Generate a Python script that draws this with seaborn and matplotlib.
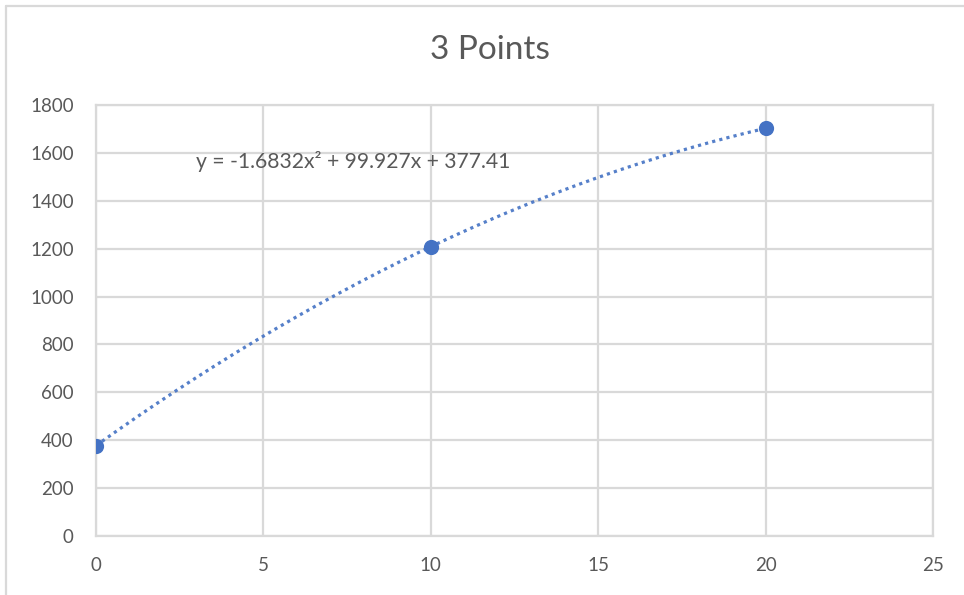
import numpy as np
import pandas as pd
import matplotlib
matplotlib.use("Agg")
import matplotlib.pyplot as plt
from matplotlib.lines import Line2D
import seaborn as sns

# Measured points
x_vals = [0, 10, 20]
y_vals = [377.41, 1208.36, 1702.67]

# Quadratic trendline coefficients (a*x^2 + b*x + c)
coef_a = -1.6832
coef_b = 99.927
coef_c = 377.41

x_ticks = [0, 5, 10, 15, 20, 25]
y_ticks = [0, 200, 400, 600, 800, 1000, 1200, 1400, 1600, 1800]

title_text = "3 Points"
equation_text = "y = -1.6832x\u00b2 + 99.927x + 377.41"

blue = "#4472C4"
grid_grey = "#D9D9D9"
text_grey = "#595959"

sns.set_theme(style="white")
plt.rcParams["font.family"] = ["Lato", "DejaVu Sans"]

fig = plt.figure(figsize=(9.64, 5.95), dpi=100)
ax = fig.add_axes([96 / 964, 1 - 536 / 595, (933 - 96) / 964, (536 - 105) / 595])

points = pd.DataFrame({"x": x_vals, "y": y_vals})
trend_x = np.linspace(min(x_vals), max(x_vals), 200)
trend = pd.DataFrame({"x": trend_x,
                      "y": coef_a * trend_x ** 2 + coef_b * trend_x + coef_c})

sns.lineplot(data=trend, x="x", y="y", ax=ax, color=blue, lw=2.3,
             linestyle=(0, (1, 1.3)), zorder=3, alpha=0.9)
ax.lines[-1].set_dash_capstyle("butt")
sns.scatterplot(data=points, x="x", y="y", ax=ax, color=blue, s=120,
                edgecolor=blue, linewidth=0, zorder=4)

ax.set_xlim(0, 25)
ax.set_ylim(0, 1800)
ax.set_xticks(x_ticks)
ax.set_yticks(y_ticks)
ax.set_xlabel("")
ax.set_ylabel("")
ax.grid(True, color=grid_grey, lw=1.6)
ax.set_axisbelow(True)
for sp in ax.spines.values():
    sp.set_color(grid_grey)
    sp.set_linewidth(1.6)
ax.tick_params(axis="both", length=0, labelsize=13.5, labelcolor=text_grey)
ax.tick_params(axis="x", pad=15)
ax.tick_params(axis="y", pad=16)

ax.text(3.0, 1562, equation_text, fontsize=15.2, color=text_grey,
        va="center", ha="left", zorder=5)

fig.text(490 / 964, 1 - 50 / 595, title_text, fontsize=24, color=text_grey,
         ha="center", va="center")

# Chart-area frame along the top and left edges
fig.add_artist(Line2D([6 / 964, 1.0], [1 - 6 / 595, 1 - 6 / 595],
                      transform=fig.transFigure, color=grid_grey, lw=1.6))
fig.add_artist(Line2D([6 / 964, 6 / 964], [0.0, 1 - 6 / 595],
                      transform=fig.transFigure, color=grid_grey, lw=1.6))

fig.savefig("out.png", dpi=100, facecolor="white")
